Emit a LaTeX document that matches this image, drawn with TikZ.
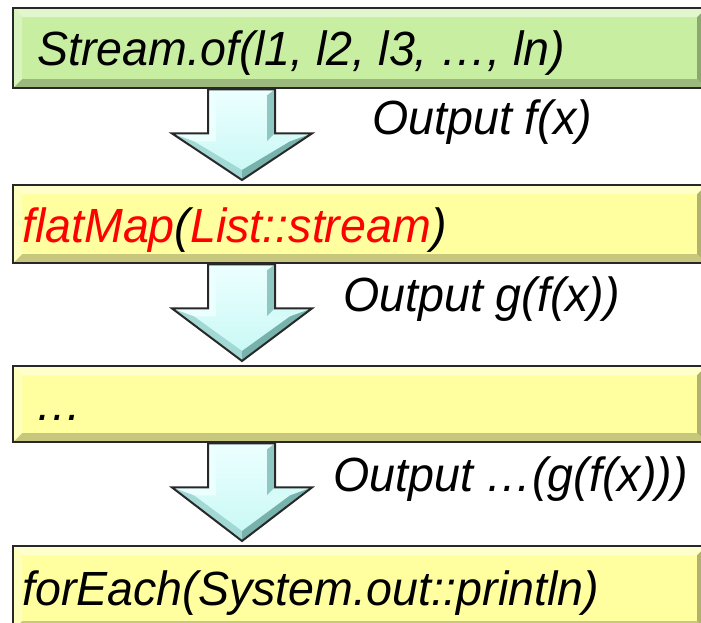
\documentclass[tikz,border=0pt]{standalone}
\usepackage{fontspec}
\usetikzlibrary{calc}
\newfontfamily\lblfont[FakeStretch=0.97]{Liberation Sans}

\definecolor{boxgreen}{RGB}{200,238,162}
\definecolor{boxyellow}{RGB}{255,255,160}
\definecolor{edgeline}{RGB}{40,40,40}
\definecolor{arrowmid}{RGB}{198,248,244}
\definecolor{arrowlight}{RGB}{236,255,255}
\definecolor{arrowdark}{RGB}{120,178,172}
\definecolor{codered}{RGB}{255,0,0}

\tikzset{
  stage/.style={
    anchor=north west, inner sep=0pt, minimum width=693pt,
    fill=#1, draw=edgeline, line width=2.4pt,
    path picture={
      \coordinate (pnw) at (path picture bounding box.north west);
      \coordinate (pse) at (path picture bounding box.south east);
      \coordinate (pne) at (path picture bounding box.north east);
      \coordinate (psw) at (path picture bounding box.south west);
      % bevelled rim: light top/left, dark bottom/right
      \fill[#1!55!white] (pnw) -- (pne) -- ($(pne)+(-9,9)$) -- ($(pnw)+(9,9)$) -- cycle;
      \fill[#1!70!white] (pnw) -- ($(pnw)+(9,9)$) -- ($(psw)+(9,-9)$) -- (psw) -- cycle;
      \fill[#1!78!black] (psw) -- ($(psw)+(9,-9)$) -- ($(pse)+(-9,-9)$) -- (pse) -- cycle;
      \fill[#1!70!black] (pse) -- ($(pse)+(-9,-9)$) -- ($(pne)+(-9,9)$) -- (pne) -- cycle;
    }},
  code/.style={anchor=base west, inner sep=0pt, font=\lblfont\itshape\fontsize{48}{54}\selectfont},
  outlabel/.style={code},
  arrowface/.style={fill=#1},
  arrowrim/.style={draw=edgeline, line width=2pt, line join=miter}
}

\newdimen\flowtop
\newdimen\flowtip
% bevelled block arrow pointing down from stage #1 to stage #2
\newcommand\downflow[2]{%
  \pgfextracty{\flowtop}{\pgfpointanchor{#1}{south}}%
  \pgfextracty{\flowtip}{\pgfpointanchor{#2}{north}}%
  \edef\T{\the\flowtop}\edef\P{\the\flowtip}%
  \fill[top color=arrowlight, bottom color=arrowmid]
    (208pt,\T) -- (275pt,\T) -- (275pt,\T-44pt) -- (312pt,\T-44pt)
    -- (242pt,\P+4pt) -- (172pt,\T-44pt) -- (208pt,\T-44pt) -- cycle;
  % stem rims
  \fill[arrowface=arrowlight] (208pt,\T) -- (216pt,\T-6pt) -- (216pt,\T-52pt) -- (208pt,\T-44pt) -- cycle;
  \fill[arrowface=arrowdark!70!arrowmid] (275pt,\T) -- (267pt,\T-6pt) -- (267pt,\T-52pt) -- (275pt,\T-44pt) -- cycle;
  % head rims
  \fill[arrowface=arrowlight] (172pt,\T-44pt) -- (208pt,\T-44pt) -- (216pt,\T-52pt) -- (194pt,\T-52pt) -- cycle;
  \fill[arrowface=arrowmid!60!arrowlight] (275pt,\T-44pt) -- (312pt,\T-44pt) -- (290pt,\T-52pt) -- (267pt,\T-52pt) -- cycle;
  \fill[arrowface=arrowdark!45!arrowmid] (172pt,\T-44pt) -- (194pt,\T-52pt) -- (242pt,\P+14pt) -- (242pt,\P+4pt) -- cycle;
  \fill[arrowface=arrowdark] (312pt,\T-44pt) -- (290pt,\T-52pt) -- (242pt,\P+14pt) -- (242pt,\P+4pt) -- cycle;
  \draw[arrowrim]
    (208pt,\T) -- (275pt,\T) -- (275pt,\T-44pt) -- (312pt,\T-44pt)
    -- (242pt,\P+4pt) -- (172pt,\T-44pt) -- (208pt,\T-44pt) -- cycle;
}

\begin{document}
\begin{tikzpicture}[x=1pt, y=-1pt]
  \useasboundingbox (0,0) rectangle (701,623);

  % pipeline stages
  \node[stage=boxgreen,  minimum height=80pt] (s1) at (12,7) {};
  \node[stage=boxyellow, minimum height=78pt] (s2) at (12,184) {};
  \node[stage=boxyellow, minimum height=76pt] (s3) at (12,365) {};
  \node[stage=boxyellow, minimum height=84pt] (s4) at (12,545) {};

  % stage texts
  \node[code] (t1) at (37,66) {Stream.of(l1, l2, l3, …, ln)};
  \node[code] (t2) at (22,242) {\textcolor{codered}{flatMap}(\textcolor{codered}{List::stream})};
  \node[code] (t3) at (35,420) {…};
  \node[code] (t4) at (22,605) {forEach(System.out::println)};

  % arrows between stages
  \downflow{s1}{s2}
  \downflow{s2}{s3}
  \downflow{s3}{s4}

  % arrow labels
  \node[outlabel] (o1) at (372,135) {Output f(x)};
  \node[outlabel] (o2) at (343,311) {Output g(f(x))};
  \node[outlabel] (o3) at (333,491) {Output …(g(f(x)))};
\end{tikzpicture}
\end{document}
